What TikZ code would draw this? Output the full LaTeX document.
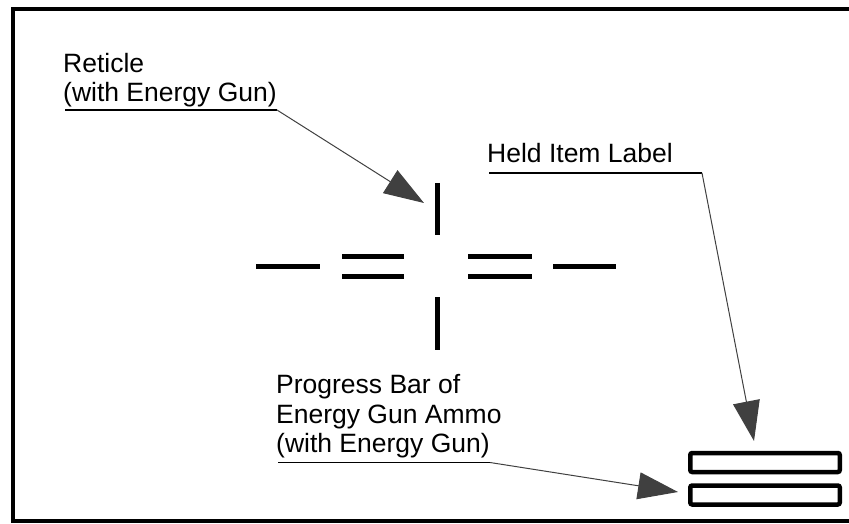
\documentclass[tikz,border=0pt]{standalone}
\usepackage{fontspec}
\setmainfont{Liberation Sans}
\usetikzlibrary{arrows.meta}
\begin{document}
\begin{tikzpicture}[x=1pt,y=-1pt,
  lbl/.style={anchor=base west, inner sep=0pt, font=\fontsize{26.5}{30}\selectfont},
  uline/.style={line width=1.8pt, black},
  conn/.style={line width=1pt, black!75, -{Triangle[length=40pt,width=27pt]}},
  tickline/.style={line width=5pt, black},
  barbox/.style={draw, line width=4.5pt, rounded corners=2pt, minimum width=149.5pt, minimum height=19pt, inner sep=0pt}
]
\useasboundingbox (0,0) rectangle (849,524);
\clip (0,0) rectangle (849,524);
% frame
\draw[line width=4pt] (13,9.5) rectangle (880,521);

% reticle
\draw[tickline] (437,183) -- (437,235);
\draw[tickline] (437,297) -- (437,350);
\draw[tickline] (256,266) -- (320,266);
\draw[tickline] (342,256) -- (404,256);
\draw[tickline] (342,276) -- (404,276);
\draw[tickline] (468,256) -- (532,256);
\draw[tickline] (468,276) -- (532,276);
\draw[tickline] (553,266) -- (616,266);

% progress bars
\node[barbox] (bar1) at (765,462.5) {};
\node[barbox] (bar2) at (765,495) {};

% labels
\node[lbl] (r1) at (63,72.5) {Reticle};
\node[lbl] (r2) at (63,101.5) {(with Energy Gun)};
\node[lbl] (h1) at (487,162.5) {Held Item Label};
\node[lbl] (p1) at (276,393.5) {Progress Bar of};
\node[lbl] (p2) at (276,423) {Energy Gun Ammo};
\node[lbl] (p3) at (276,452.5) {(with Energy Gun)};

% underline / connector points
\coordinate (rA) at (65,110);
\coordinate (rB) at (277,110);
\coordinate (rTip) at (424,203);
\coordinate (hA) at (489,173);
\coordinate (hB) at (702,173);
\coordinate (hTip) at (754,441);
\coordinate (pA) at (278,462.5);
\coordinate (pB) at (490,462.5);
\coordinate (pTip) at (678,492);

\draw[uline] (rA) -- (rB);
\draw[conn] (rB) -- (rTip);
\draw[uline] (hA) -- (hB);
\draw[conn] (hB) -- (hTip);
\draw[uline] (pA) -- (pB);
\draw[conn] (pB) -- (pTip);
\end{tikzpicture}
\end{document}
